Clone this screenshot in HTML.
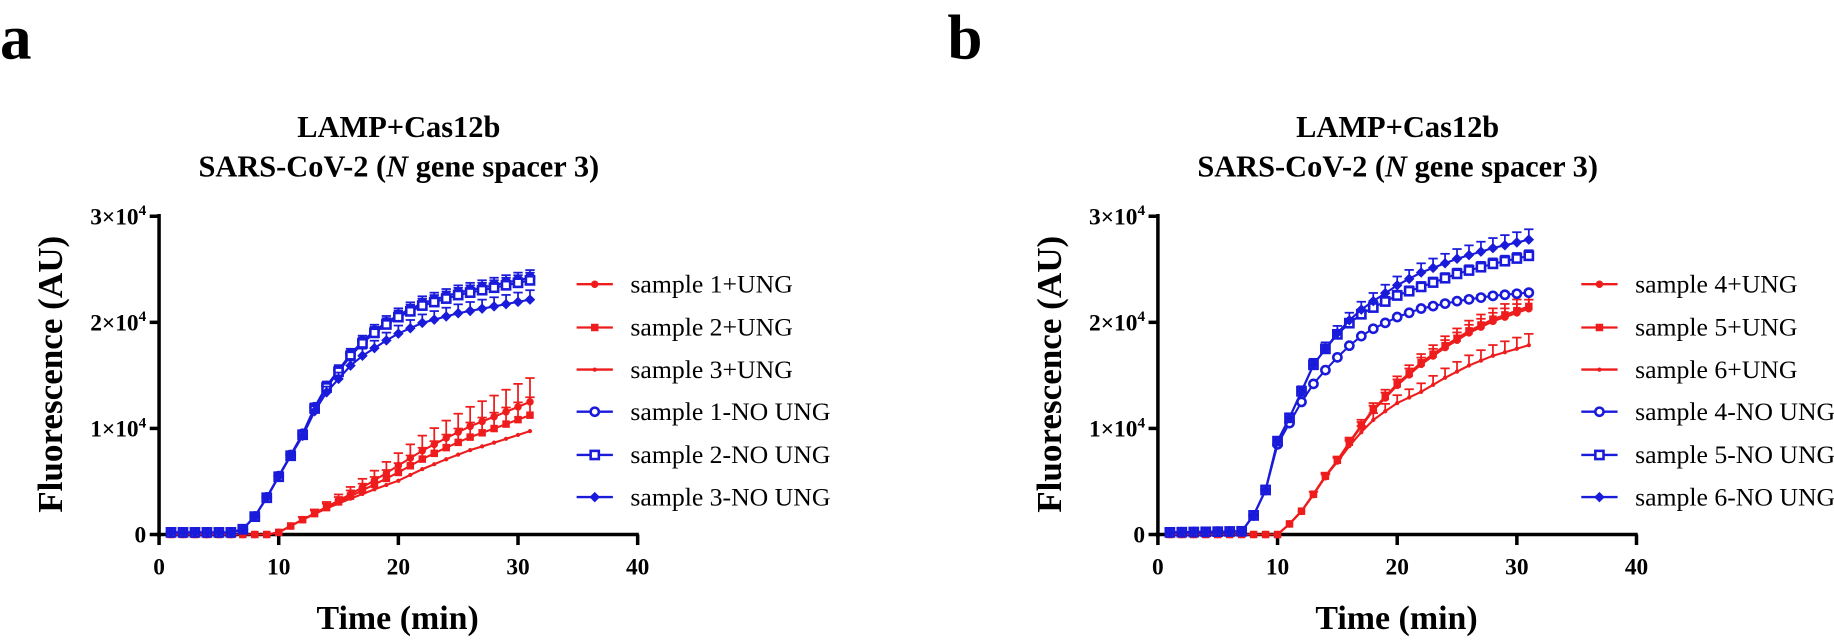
<!DOCTYPE html><html><head><meta charset="utf-8"><style>
body{margin:0;background:#fff;width:1834px;height:639px;overflow:hidden}
svg{font-family:"Liberation Serif",serif}
</style></head><body>
<svg width="1834" height="639" xmlns="http://www.w3.org/2000/svg"><g id="s" transform="scale(1.1696)"></g></svg>
<script>
const S=document.getElementById('s');let h='';
function interp(k,t){if(t<=k[0][0])return k[0][1];for(let i=1;i<k.length;i++){if(t<=k[i][0]){const a=k[i-1],b=k[i];return a[1]+(b[1]-a[1])*(t-a[0])/(b[0]-a[0]);}}return k[k.length-1][1];}
function scale(k,f,from){return k.map(p=>[p[0],p[0]<from?p[1]:p[1]*(1-(1-f)*Math.min(1,(p[0]-from)/8))]);}
function marker(type,x,y,c){
 if(type=='c')return `<circle cx="${x}" cy="${y}" r="3.2" fill="${c}"/>`;
 if(type=='s')return `<rect x="${x-3.2}" y="${y-3.2}" width="6.4" height="6.4" fill="${c}"/>`;
 if(type=='d')return `<circle cx="${x}" cy="${y}" r="1.8" fill="${c}"/>`;
 if(type=='oc')return `<circle cx="${x}" cy="${y}" r="3.5" fill="#fff" stroke="${c}" stroke-width="2.2"/>`;
 if(type=='os')return `<rect x="${x-3.5}" y="${y-3.5}" width="7" height="7" fill="#fff" stroke="${c}" stroke-width="2.2"/>`;
 if(type=='D')return `<polygon points="${x},${y-4.5} ${x+4.5},${y} ${x},${y+4.5} ${x-4.5},${y}" fill="${c}"/>`;
}
function panel(ox,label,lx,series,legendY,legendX){
 const X=t=>ox+t*10.23, Y=v=>457-v*90.7;
 h+=`<text x="${lx}" y="50" font-size="54" font-weight="bold">${label}</text>`;
 h+=`<text x="${ox+205}" y="117" font-size="26" font-weight="bold" text-anchor="middle">LAMP+Cas12b</text>`;
 h+=`<text x="${ox+205}" y="151" font-size="26" font-weight="bold" text-anchor="middle">SARS-CoV-2 (<tspan font-style="italic">N</tspan> gene spacer 3)</text>`;
 h+=`<text transform="translate(${ox-83},320) rotate(-90)" font-size="30" font-weight="bold" text-anchor="middle">Fluorescence (AU)</text>`;
 h+=`<text x="${ox+204}" y="538" font-size="29" font-weight="bold" text-anchor="middle">Time (min)</text>`;
 h+=`<line x1="${ox}" y1="183" x2="${ox}" y2="459" stroke="#000" stroke-width="3"/>`;
 h+=`<line x1="${ox-2}" y1="457" x2="${X(40)+1}" y2="457" stroke="#000" stroke-width="3"/>`;
 for(let i=0;i<=3;i++){const y=Y(i);h+=`<line x1="${ox-8}" y1="${y}" x2="${ox}" y2="${y}" stroke="#000" stroke-width="3"/>`;
  h+= i==0?`<text x="${ox-11}" y="${y+7}" font-size="20" font-weight="bold" text-anchor="end">0</text>`:`<text x="${ox-11}" y="${y+7}" font-size="20" font-weight="bold" text-anchor="end">${i}×10<tspan font-size="13" dy="-8">4</tspan></text>`;}
 for(let i=0;i<=4;i++){const x=X(i*10);h+=`<line x1="${x}" y1="457" x2="${x}" y2="466" stroke="#000" stroke-width="3"/><text x="${x}" y="491" font-size="20" font-weight="bold" text-anchor="middle">${i*10}</text>`;}
 series.forEach((s,j)=>{let pts=[],m='',e='';
  for(let t=1;t<=31;t++){const v=interp(s.k,t);const x=X(t),y=Y(v);pts.push(x.toFixed(1)+','+y.toFixed(1));
   const err=v*s.e; if(err>0.02){const ye=Y(v+err);e+=`<line x1="${x}" y1="${y}" x2="${x}" y2="${ye}" stroke="${s.c}" stroke-width="1.5"/><line x1="${x-4}" y1="${ye}" x2="${x+4}" y2="${ye}" stroke="${s.c}" stroke-width="1.5"/>`;}
   m+=marker(s.m,x,y,s.c);}
  h+=e+`<polyline points="${pts.join(' ')}" fill="none" stroke="${s.c}" stroke-width="1.8"/>`+m;
  const ly=legendY[j];h+=`<line x1="${legendX}" y1="${ly}" x2="${legendX+31}" y2="${ly}" stroke="${s.c}" stroke-width="2"/>`+marker(s.m,legendX+15.5,ly,s.c)+`<text x="${legendX+46}" y="${ly+7}" font-size="22">${s.n}</text>`;
 });
}
const R='#ee1c1c',B='#1a1adb';
const LY=[243,280,316,352,389,425];
const ra=[[1,0],[9,0],[10,0.02],[11,0.08],[12,0.14],[14,0.26],[16,0.38],[18,0.51],[20,0.65],[22,0.79],[24,0.91],[26,1.02],[28,1.11],[31,1.25]];
const ba=[[1,0.02],[6,0.02],[7,0.05],[8,0.17],[9,0.35],[10,0.55],[11,0.75],[12,0.95],[13,1.2],[14,1.4],[15,1.55],[16,1.7],[17,1.82],[18,1.92],[19,2.0],[20,2.07],[22,2.18],[25,2.28],[28,2.35],[31,2.42]];
panel(136,'a',0,[
 {n:'sample 1+UNG',c:R,m:'c',k:ra,e:0.18},
 {n:'sample 2+UNG',c:R,m:'s',k:scale(ra,0.9,12),e:0.15},
 {n:'sample 3+UNG',c:R,m:'d',k:scale(ra,0.78,12),e:0},
 {n:'sample 1-NO UNG',c:B,m:'oc',k:ba,e:0.03},
 {n:'sample 2-NO UNG',c:B,m:'os',k:ba.map(p=>[p[0],p[1]*0.99]),e:0.03},
 {n:'sample 3-NO UNG',c:B,m:'D',k:scale(ba,0.915,10),e:0.04}
],LY,493);
const rb=[[1,0],[10,0],[11,0.1],[12,0.22],[13,0.38],[14,0.55],[15,0.7],[16,0.87],[17,1.03],[18,1.18],[19,1.3],[20,1.42],[22,1.62],[24,1.78],[26,1.92],[28,2.03],[31,2.15]];
const bb=[[1,0.02],[7,0.03],[8,0.18],[9,0.42],[10,0.88],[11,1.1],[12,1.35],[13,1.6],[14,1.75],[15,1.9],[16,2.02],[17,2.12],[18,2.2],[20,2.35],[22,2.47],[25,2.6],[28,2.7],[31,2.78]];
const b4=[[1,0.02],[7,0.03],[8,0.18],[9,0.42],[10,0.85],[11,1.05],[12,1.25],[13,1.42],[14,1.55],[15,1.67],[16,1.78],[17,1.87],[18,1.94],[20,2.05],[22,2.13],[25,2.2],[28,2.25],[31,2.28]];
panel(990,'b',810,[
 {n:'sample 4+UNG',c:R,m:'c',k:rb.map(p=>[p[0],p[1]*0.99]),e:0.04},
 {n:'sample 5+UNG',c:R,m:'s',k:rb,e:0.05},
 {n:'sample 6+UNG',c:R,m:'d',k:scale(rb,0.83,14),e:0.06},
 {n:'sample 4-NO UNG',c:B,m:'oc',k:b4,e:0.01},
 {n:'sample 5-NO UNG',c:B,m:'os',k:scale(bb,0.945,14),e:0.02},
 {n:'sample 6-NO UNG',c:B,m:'D',k:bb,e:0.035}
],LY,1352);
S.innerHTML=h;
</script></body></html>
